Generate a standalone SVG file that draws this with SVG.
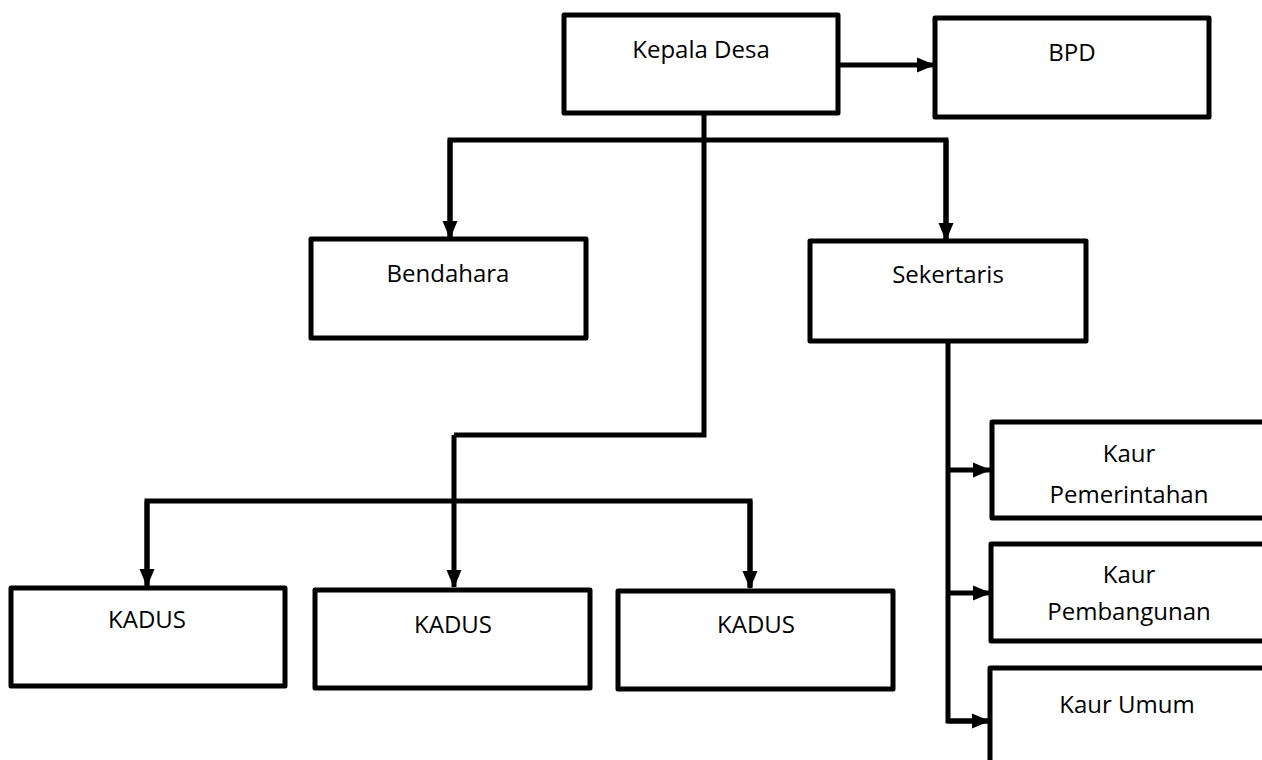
<svg xmlns="http://www.w3.org/2000/svg" width="1262" height="760" viewBox="0 0 1262 760">
<style>
.box{fill:#fff;stroke:#000;stroke-width:5;stroke-linejoin:round}
.lbl{font-family:"Open Sans","Liberation Sans",sans-serif;font-size:24px;fill:#000;text-anchor:middle}
.ln{fill:none;stroke:#000;stroke-width:5;stroke-linejoin:miter}
.arr{marker-end:url(#ah)}
</style>
<defs>
<marker id="ah" markerUnits="userSpaceOnUse" markerWidth="18" markerHeight="18" viewBox="0 0 18 18" refX="17" refY="9" orient="auto">
<path d="M0,1.5 L18,9 L0,16.5 Z" fill="#000"/>
</marker>
</defs>
<g id="connectors">
<path class="ln arr" d="M838,65 H934"/>
<path class="ln" d="M704,113 V435 H454"/>
<path class="ln" d="M450,239 V140 H946 V240"/>
<path class="ln arr" d="M450,140 V238"/>
<path class="ln arr" d="M946,140 V240"/>
<path class="ln arr" d="M454,435 V587"/>
<path class="ln" d="M147,585 V501 H750 V587"/>
<path class="ln arr" d="M147,501 V586"/>
<path class="ln arr" d="M750,501 V588"/>
<path class="ln" d="M948,341 V721 H988"/>
<path class="ln arr" d="M948,470 H990"/>
<path class="ln arr" d="M948,593 H990"/>
<path class="ln arr" d="M948,721 H989"/>
</g>
<g id="kepala-desa"><rect class="box" x="564" y="15" width="274" height="98"/><text class="lbl" x="701" y="58">Kepala Desa</text></g>
<g id="bpd"><rect class="box" x="935" y="18" width="274" height="99"/><text class="lbl" x="1072" y="61">BPD</text></g>
<g id="bendahara"><rect class="box" x="311" y="239" width="275" height="99"/><text class="lbl" x="448" y="282">Bendahara</text></g>
<g id="sekertaris"><rect class="box" x="810" y="241" width="276" height="100"/><text class="lbl" x="948" y="283">Sekertaris</text></g>
<g id="kaur-pemerintahan"><rect class="box" x="992" y="422" width="290" height="96"/><text class="lbl" x="1129" y="462">Kaur</text><text class="lbl" x="1129" y="503">Pemerintahan</text></g>
<g id="kaur-pembangunan"><rect class="box" x="991" y="544" width="290" height="97"/><text class="lbl" x="1129" y="583">Kaur</text><text class="lbl" x="1129" y="620">Pembangunan</text></g>
<g id="kaur-umum"><rect class="box" x="990" y="668" width="290" height="110"/><text class="lbl" x="1127" y="713">Kaur Umum</text></g>
<g id="kadus-1"><rect class="box" x="11" y="588" width="274" height="98"/><text class="lbl" x="147" y="628">KADUS</text></g>
<g id="kadus-2"><rect class="box" x="315" y="590" width="275" height="98"/><text class="lbl" x="453" y="633">KADUS</text></g>
<g id="kadus-3"><rect class="box" x="618" y="591" width="275" height="98"/><text class="lbl" x="756" y="633">KADUS</text></g>
</svg>
